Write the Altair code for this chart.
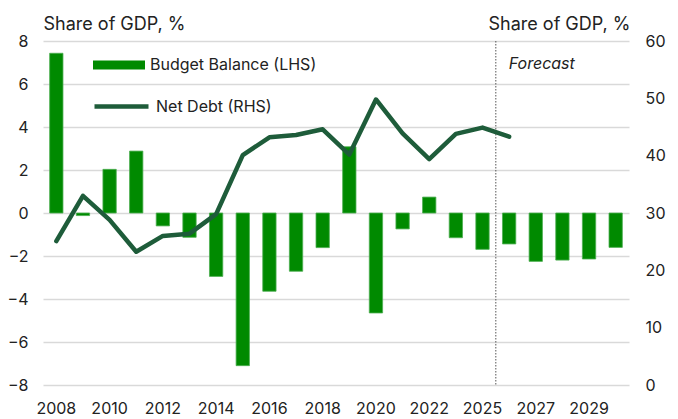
import altair as alt
import pandas as pd

years = ["2008", "2009", "2010", "2011", "2012", "2013", "2014", "2015", "2016",
         "2017", "2018", "2019", "2020", "2021", "2022", "2023", "2025", "2026",
         "2027", "2028", "2029", "2030"]
budget_balance = [7.43, -0.12, 2.03, 2.88, -0.6, -1.13, -2.95, -7.1, -3.64, -2.71,
                  -1.61, 3.08, -4.65, -0.74, 0.74, -1.15, -1.69, -1.44, -2.25,
                  -2.19, -2.14, -1.6]
net_debt_years = ["2008", "2009", "2010", "2011", "2012", "2013", "2014", "2015",
                  "2016", "2017", "2018", "2019", "2020", "2021", "2022", "2023",
                  "2025", "2026"]
net_debt = [25.1, 33.0, 28.8, 23.25, 26.0, 26.4, 29.8, 40.1, 43.2, 43.6, 44.6,
            40.2, 49.8, 43.9, 39.4, 43.8, 44.9, 43.3]
x_labels = ["2008", "2010", "2012", "2014", "2016", "2018", "2020", "2022",
            "2025", "2027", "2029"]

FONT = "Inter"
BAR = "#008A00"
LINE = "#1E5C3A"
W, H = 586, 344
STEP = W / len(years)

bars_df = pd.DataFrame({"year": years, "value": budget_balance,
                        "series": "Budget Balance (LHS)"})
line_df = pd.DataFrame({"year": net_debt_years, "value": net_debt,
                        "series": "Net Debt (RHS)"})

x_enc = alt.X("year:N", sort=years, title=None,
              scale=alt.Scale(domain=years, paddingInner=0.5, paddingOuter=0.25),
              axis=alt.Axis(values=x_labels, labelAngle=0, ticks=False, domain=False,
                            labelPadding=15, labelFontSize=16, labelFont=FONT,
                            labelColor="#222222", grid=False))

left_scale = alt.Scale(domain=[-8, 8], nice=False, zero=False)

bars = alt.Chart(bars_df).mark_bar(stroke="#4CAF50", strokeWidth=0.8).encode(
    x=x_enc,
    y=alt.Y("value:Q", scale=left_scale, title="Share of GDP, %",
            axis=alt.Axis(orient="left", values=list(range(-8, 9, 2)), ticks=False,
                          domain=False, labelPadding=15, labelFontSize=16,
                          labelFont=FONT, labelColor="#222222", grid=True,
                          gridColor="#d9d9d9", gridWidth=1.5,
                          titleAngle=0, titleX=0, titleY=-17, titleAlign="left",
                          titleBaseline="middle", titleFont=FONT, titleFontSize=18,
                          titleFontWeight="normal", titleColor="#222222")),
    color=alt.Color("series:N", scale=alt.Scale(range=[BAR]),
                    legend=alt.Legend(orient="none", legendX=50, legendY=-2,
                                      title=None, labelFont=FONT, labelFontSize=16,
                                      labelColor="#222222", labelOffset=5,
                                      labelLimit=400,
                                      symbolType="M-1,-0.17H1V0.17H-1Z",
                                      symbolSize=2704, symbolStrokeWidth=0,
                                      symbolOpacity=1)),
)

rule_df = pd.DataFrame({"year": ["2026"], "top": [8], "bottom": [-8]})
rule = alt.Chart(rule_df).mark_rule(color="#555555", strokeDash=[1.5, 1.5],
                                    strokeWidth=1, xOffset=-STEP / 4).encode(
    x=alt.X("year:N", sort=years, bandPosition=0),
    y=alt.Y("top:Q", scale=left_scale),
    y2="bottom:Q",
)

text_df = pd.DataFrame({"year": ["2027"], "value": [7], "label": ["Forecast"]})
forecast = alt.Chart(text_df).mark_text(font=FONT, fontSize=16, fontStyle="italic",
                                        color="#222222", align="center",
                                        baseline="middle", dx=6, dy=1).encode(
    x=alt.X("year:N", sort=years),
    y=alt.Y("value:Q", scale=left_scale),
    text="label:N",
)

left_layer = alt.layer(bars, rule, forecast)

line = alt.Chart(line_df).mark_line(strokeWidth=4.5, strokeCap="round",
                                    strokeJoin="round").encode(
    x=alt.X("year:N", sort=years),
    y=alt.Y("value:Q", scale=alt.Scale(domain=[0, 60], nice=False),
            title="Share of GDP, %",
            axis=alt.Axis(orient="right", values=list(range(0, 61, 10)), ticks=False,
                          domain=False, labelPadding=16, labelFontSize=16,
                          labelFont=FONT, labelColor="#222222", grid=False,
                          titleAngle=0, titleX=1, titleY=-17, titleAlign="right",
                          titleBaseline="middle", titleFont=FONT, titleFontSize=18,
                          titleFontWeight="normal", titleColor="#222222")),
    stroke=alt.Stroke("series:N", scale=alt.Scale(range=[LINE]),
                      legend=alt.Legend(orient="none", legendX=49, legendY=36,
                                        title=None, labelFont=FONT, labelFontSize=16,
                                        labelColor="#222222", labelOffset=5,
                                        labelLimit=400,
                                        symbolType="stroke", symbolSize=2916,
                                        symbolStrokeWidth=4.5)),
)

chart = alt.layer(left_layer, line).resolve_scale(
    y="independent", color="independent", stroke="independent"
).properties(
    width=W, height=H,
    autosize=alt.AutoSizeParams(type="none"),
    padding={"left": 43, "top": 41, "right": 49, "bottom": 34},
    background="white",
).configure_view(stroke=None)

chart.save("out.html", embed_options={"renderer": "svg", "actions": False})
